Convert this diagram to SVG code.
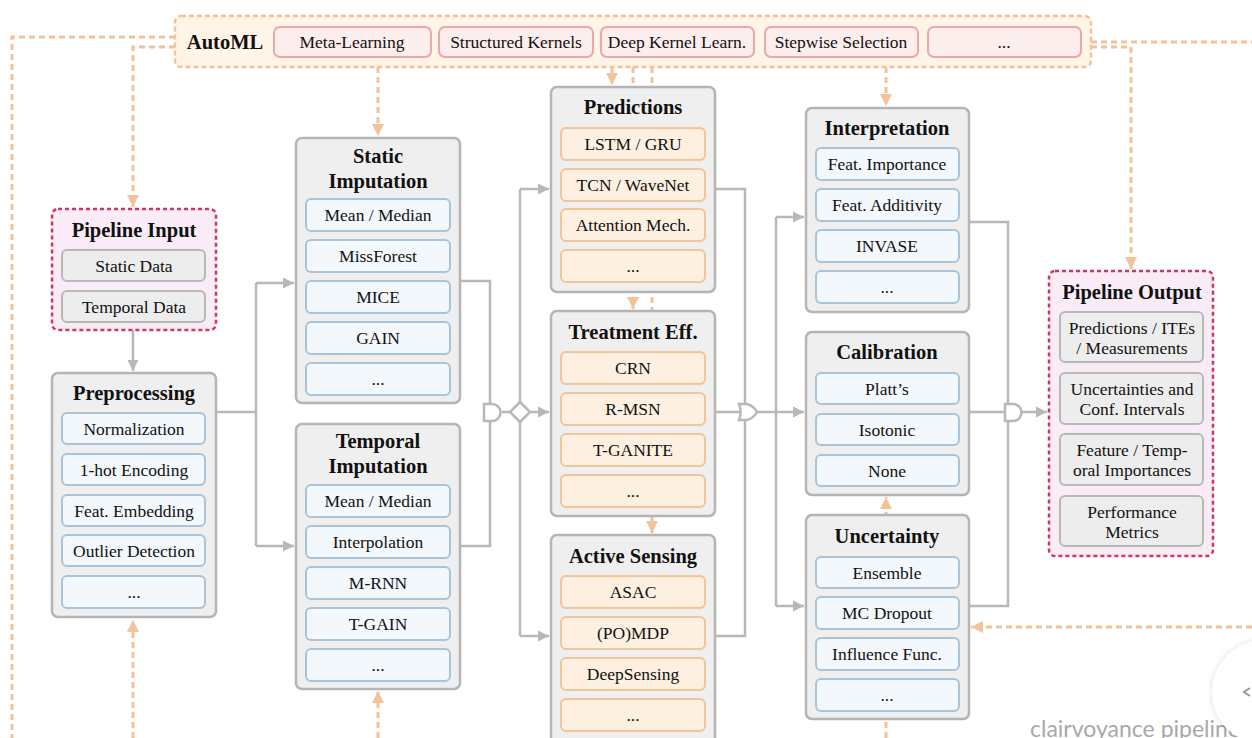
<svg xmlns="http://www.w3.org/2000/svg" width="1252" height="738" viewBox="0 0 1252 738">
<style>
text{font-family:'Liberation Serif','Times New Roman',serif;fill:#111;text-anchor:middle}
.t{font-weight:bold;font-size:20.5px}
.i{font-size:17.5px}
.wm{font-family:Lato,'Liberation Sans',sans-serif;font-size:23px;fill:#a8a8a8;text-anchor:start}
.box{fill:#efefef;stroke:#b5b5b5;stroke-width:2.5}
.io{fill:#f9ecf6;stroke:#d2365e;stroke-width:2.5;stroke-dasharray:4 3}
.g{fill:#ededed;stroke:#b8b8b8;stroke-width:2}
.b{fill:#f3f8fc;stroke:#a8c4da;stroke-width:2}
.o{fill:#fdf0e0;stroke:#efc59c;stroke-width:2}
.p{fill:#fdeeee;stroke:#e9a9a9;stroke-width:2}
.c{fill:none;stroke:#b8b8b8;stroke-width:2.5}
.d{fill:none;stroke:#f2c29b;stroke-width:3;stroke-dasharray:6 4}
.gate{fill:#fff;stroke:#b8b8b8;stroke-width:2.5}
</style>
<defs>
<marker id="ag" viewBox="0 0 10 10" refX="10" refY="5" markerWidth="4.5" markerHeight="4.5" orient="auto" markerUnits="strokeWidth"><path d="M0,0 L10,5 L0,10 z" fill="#b8b8b8"/></marker>
<marker id="ao" viewBox="0 0 10 10" refX="10" refY="5" markerWidth="4" markerHeight="4" orient="auto" markerUnits="strokeWidth"><path d="M0,0 L10,5 L0,10 z" fill="#f2c29b"/></marker>
<filter id="sh" x="-30%" y="-30%" width="160%" height="160%"><feGaussianBlur stdDeviation="3"/></filter>
</defs>
<rect width="1252" height="738" fill="#fff"/>

<g id="connectors">
<path class="d" d="M175,37 H12 V738"/>
<path class="d" d="M175,47 H133 V207" marker-end="url(#ao)"/>
<path class="d" d="M378,67 V136" marker-end="url(#ao)"/>
<path class="d" d="M612,67 V85" marker-end="url(#ao)"/>
<path class="d" d="M633,67 V309" marker-end="url(#ao)"/>
<path class="d" d="M652,67 V533" marker-end="url(#ao)"/>
<path class="d" d="M886,67 V106" marker-end="url(#ao)"/>
<path class="d" d="M1091,42 H1252"/>
<path class="d" d="M1091,47 H1131 V269" marker-end="url(#ao)"/>
<path class="d" d="M1252,627 H971" marker-end="url(#ao)"/>
<path class="d" d="M133,738 V620" marker-end="url(#ao)"/>
<path class="d" d="M378,738 V691" marker-end="url(#ao)"/>
<path class="d" d="M886,738 V497" marker-end="url(#ao)"/>
<path class="c" d="M133,330 V371" marker-end="url(#ag)"/>
<path class="c" d="M216,412 H256"/>
<path class="c" d="M256,283 V546"/>
<path class="c" d="M256,283 H294" marker-end="url(#ag)"/>
<path class="c" d="M256,546 H294" marker-end="url(#ag)"/>
<path class="c" d="M460,281 H490 V546 H460"/>
<path class="c" d="M502,412 H510"/>
<path class="c" d="M520,189 V636"/>
<path class="c" d="M520,189 H549" marker-end="url(#ag)"/>
<path class="c" d="M530,412 H549" marker-end="url(#ag)"/>
<path class="c" d="M520,636 H549" marker-end="url(#ag)"/>
<path class="c" d="M715,189 H745 V636 H715"/>
<path class="c" d="M715,412 H804" marker-end="url(#ag)"/>
<path class="c" d="M776,217 V606"/>
<path class="c" d="M776,217 H804" marker-end="url(#ag)"/>
<path class="c" d="M776,606 H804" marker-end="url(#ag)"/>
<path class="c" d="M969,222 H1008 V606 H969"/>
<path class="c" d="M969,412 H1006"/>
<path class="c" d="M1022,412 H1047" marker-end="url(#ag)"/>
<path class="gate" d="M484,404 H492 A8.5,8.5 0 0 1 492,421 H484 Z"/>
<polygon class="gate" points="520,402 530,412 520,422 510,412"/>
<path class="gate" d="M739,404 L747,404 Q754,406 757,412 Q754,418 747,420 L739,420 Q742,412 739,404 Z"/>
<path class="gate" d="M1005,404 H1013 A8.5,8.5 0 0 1 1013,421 H1005 Z"/>
</g>

<g id="automl">
<rect x="175" y="16" width="916" height="51" rx="6" fill="#fff4e6" stroke="#f2c29b" stroke-width="2.5" stroke-dasharray="5 3"/>
<text class="t" x="225" y="49">AutoML</text>
<rect class="p" x="274" y="27" width="157" height="30" rx="6"/><text class="i" x="352" y="48">Meta-Learning</text>
<rect class="p" x="439" y="27" width="154" height="30" rx="6"/><text class="i" x="516" y="48">Structured Kernels</text>
<rect class="p" x="601" y="27" width="153" height="30" rx="6"/><text class="i" x="677" y="48">Deep Kernel Learn.</text>
<rect class="p" x="765" y="27" width="153" height="30" rx="6"/><text class="i" x="841" y="48">Stepwise Selection</text>
<rect class="p" x="928" y="27" width="153" height="30" rx="6"/><text class="i" x="1004" y="48">...</text>
</g>

<g id="pipeline-input">
<rect class="io" x="52" y="209" width="164" height="121" rx="6"/>
<text class="t" x="134" y="237">Pipeline Input</text>
<rect class="g" x="62" y="250" width="143" height="31" rx="5"/><text class="i" x="134" y="272">Static Data</text>
<rect class="g" x="62" y="291" width="143" height="31" rx="5"/><text class="i" x="134" y="313">Temporal Data</text>
</g>

<g id="preprocessing">
<rect class="box" x="52" y="373" width="164" height="244" rx="6"/>
<text class="t" x="134" y="400">Preprocessing</text>
<rect class="b" x="62" y="413" width="143" height="31" rx="5"/><text class="i" x="134" y="435">Normalization</text>
<rect class="b" x="62" y="454" width="143" height="31" rx="5"/><text class="i" x="134" y="476">1-hot Encoding</text>
<rect class="b" x="62" y="495" width="143" height="31" rx="5"/><text class="i" x="134" y="517">Feat. Embedding</text>
<rect class="b" x="62" y="535" width="143" height="31" rx="5"/><text class="i" x="134" y="557">Outlier Detection</text>
<rect class="b" x="62" y="576" width="143" height="32" rx="5"/><text class="i" x="134" y="598">...</text>
</g>

<g id="static-imputation">
<rect class="box" x="296" y="138" width="164" height="265" rx="6"/>
<text class="t" x="378" y="163">Static</text>
<text class="t" x="378" y="188">Imputation</text>
<rect class="b" x="306" y="199" width="144" height="32" rx="5"/><text class="i" x="378" y="221">Mean / Median</text>
<rect class="b" x="306" y="240" width="144" height="32" rx="5"/><text class="i" x="378" y="262">MissForest</text>
<rect class="b" x="306" y="281" width="144" height="32" rx="5"/><text class="i" x="378" y="303">MICE</text>
<rect class="b" x="306" y="322" width="144" height="32" rx="5"/><text class="i" x="378" y="344">GAIN</text>
<rect class="b" x="306" y="363" width="144" height="32" rx="5"/><text class="i" x="378" y="385">...</text>
</g>

<g id="temporal-imputation">
<rect class="box" x="296" y="424" width="164" height="265" rx="6"/>
<text class="t" x="378" y="448">Temporal</text>
<text class="t" x="378" y="473">Imputation</text>
<rect class="b" x="306" y="485" width="144" height="32" rx="5"/><text class="i" x="378" y="507">Mean / Median</text>
<rect class="b" x="306" y="526" width="144" height="32" rx="5"/><text class="i" x="378" y="548">Interpolation</text>
<rect class="b" x="306" y="567" width="144" height="32" rx="5"/><text class="i" x="378" y="589">M-RNN</text>
<rect class="b" x="306" y="608" width="144" height="32" rx="5"/><text class="i" x="378" y="630">T-GAIN</text>
<rect class="b" x="306" y="649" width="144" height="32" rx="5"/><text class="i" x="378" y="671">...</text>
</g>

<g id="predictions">
<rect class="box" x="551" y="87" width="164" height="205" rx="6"/>
<text class="t" x="633" y="114">Predictions</text>
<rect class="o" x="561" y="128" width="144" height="32" rx="5"/><text class="i" x="633" y="150">LSTM / GRU</text>
<rect class="o" x="561" y="169" width="144" height="32" rx="5"/><text class="i" x="633" y="191">TCN / WaveNet</text>
<rect class="o" x="561" y="209" width="144" height="32" rx="5"/><text class="i" x="633" y="231">Attention Mech.</text>
<rect class="o" x="561" y="250" width="144" height="32" rx="5"/><text class="i" x="633" y="272">...</text>
</g>

<g id="treatment-effects">
<rect class="box" x="551" y="311" width="164" height="205" rx="6"/>
<text class="t" x="633" y="339">Treatment Eff.</text>
<rect class="o" x="561" y="352" width="144" height="32" rx="5"/><text class="i" x="633" y="374">CRN</text>
<rect class="o" x="561" y="393" width="144" height="32" rx="5"/><text class="i" x="633" y="415">R-MSN</text>
<rect class="o" x="561" y="434" width="144" height="32" rx="5"/><text class="i" x="633" y="456">T-GANITE</text>
<rect class="o" x="561" y="475" width="144" height="32" rx="5"/><text class="i" x="633" y="497">...</text>
</g>

<g id="active-sensing">
<rect class="box" x="551" y="535" width="164" height="210" rx="6"/>
<text class="t" x="633" y="563">Active Sensing</text>
<rect class="o" x="561" y="576" width="144" height="32" rx="5"/><text class="i" x="633" y="598">ASAC</text>
<rect class="o" x="561" y="617" width="144" height="32" rx="5"/><text class="i" x="633" y="639">(PO)MDP</text>
<rect class="o" x="561" y="658" width="144" height="32" rx="5"/><text class="i" x="633" y="680">DeepSensing</text>
<rect class="o" x="561" y="699" width="144" height="32" rx="5"/><text class="i" x="633" y="721">...</text>
</g>

<g id="interpretation">
<rect class="box" x="806" y="108" width="163" height="204" rx="6"/>
<text class="t" x="887" y="135">Interpretation</text>
<rect class="b" x="816" y="148" width="143" height="32" rx="5"/><text class="i" x="887" y="170">Feat. Importance</text>
<rect class="b" x="816" y="189" width="143" height="32" rx="5"/><text class="i" x="887" y="211">Feat. Additivity</text>
<rect class="b" x="816" y="230" width="143" height="32" rx="5"/><text class="i" x="887" y="252">INVASE</text>
<rect class="b" x="816" y="271" width="143" height="32" rx="5"/><text class="i" x="887" y="293">...</text>
</g>

<g id="calibration">
<rect class="box" x="806" y="332" width="163" height="163" rx="6"/>
<text class="t" x="887" y="359">Calibration</text>
<rect class="b" x="816" y="373" width="143" height="31" rx="5"/><text class="i" x="887" y="395">Platt’s</text>
<rect class="b" x="816" y="414" width="143" height="31" rx="5"/><text class="i" x="887" y="436">Isotonic</text>
<rect class="b" x="816" y="455" width="143" height="31" rx="5"/><text class="i" x="887" y="477">None</text>
</g>

<g id="uncertainty">
<rect class="box" x="806" y="515" width="163" height="204" rx="6"/>
<text class="t" x="887" y="543">Uncertainty</text>
<rect class="b" x="816" y="557" width="143" height="31" rx="5"/><text class="i" x="887" y="579">Ensemble</text>
<rect class="b" x="816" y="597" width="143" height="32" rx="5"/><text class="i" x="887" y="619">MC Dropout</text>
<rect class="b" x="816" y="638" width="143" height="32" rx="5"/><text class="i" x="887" y="660">Influence Func.</text>
<rect class="b" x="816" y="679" width="143" height="32" rx="5"/><text class="i" x="887" y="701">...</text>
</g>

<g id="pipeline-output">
<rect class="io" x="1049" y="271" width="164" height="285" rx="6"/>
<text class="t" x="1132" y="299">Pipeline Output</text>
<rect class="g" x="1060" y="312" width="143" height="50" rx="5"/>
<text class="i" x="1132" y="334">Predictions / ITEs</text><text class="i" x="1132" y="354">/ Measurements</text>
<rect class="g" x="1060" y="373" width="143" height="51" rx="5"/>
<text class="i" x="1132" y="395">Uncertainties and</text><text class="i" x="1132" y="415">Conf. Intervals</text>
<rect class="g" x="1060" y="434" width="143" height="51" rx="5"/>
<text class="i" x="1132" y="456">Feature / Temp-</text><text class="i" x="1132" y="476">oral Importances</text>
<rect class="g" x="1060" y="496" width="143" height="50" rx="5"/>
<text class="i" x="1132" y="518">Performance</text><text class="i" x="1132" y="538">Metrics</text>
</g>

<g id="watermark">
<text class="wm" x="1030" y="737">clairvoyance pipeline</text>
<circle cx="1264" cy="692" r="52" fill="#000" opacity="0.12" filter="url(#sh)"/>
<circle cx="1264" cy="692" r="52" fill="#fff"/>
<path d="M1250,688 L1244,692 L1250,696" fill="none" stroke="#999" stroke-width="2"/>
</g>
</svg>
